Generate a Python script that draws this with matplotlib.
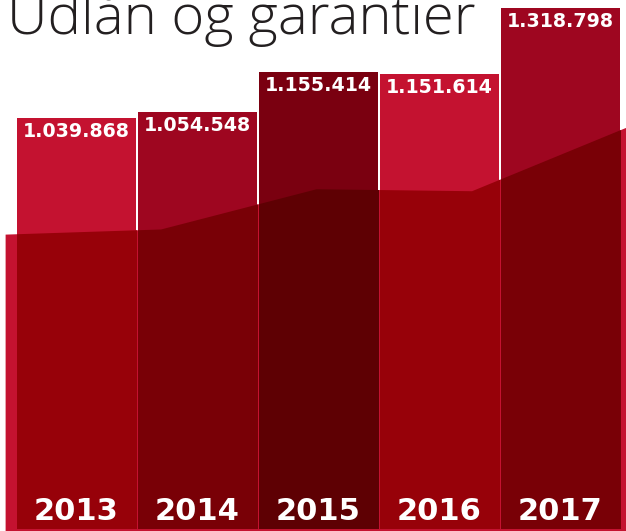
import matplotlib.pyplot as plt
import numpy as np
from matplotlib.colors import to_rgb

# data
years = ["2013", "2014", "2015", "2016", "2017"]
loans = [1039868, 1054548, 1155414, 1151614, 1318798]
loan_labels = ["1.039.868", "1.054.548", "1.155.414", "1.151.614", "1.318.798"]
# decorative backdrop area behind the bars
backdrop = [745000, 758000, 860000, 855000, 1017000]

bar_colors = ["#C41230", "#9E0620", "#7A0010", "#C41230", "#9E0620"]
overlay = "#C41230"


def multiply(c1, c2):
    """Multiply-blend two colours (the overlay darkens what lies under it)."""
    return tuple(a * b for a, b in zip(to_rgb(c1), to_rgb(c2)))


fig = plt.figure(figsize=(6.26, 5.31), dpi=100)
ax = fig.add_axes([0, 0, 1, 1])
ax.set_axis_off()

px_per_unit = 2535.0
ax.set_xlim(-76.5 / 121, 549.5 / 121)
ax.set_ylim(-3 * px_per_unit, 528 * px_per_unit)

x = np.arange(len(years))
bw = 119 / 121
bars = ax.bar(x, loans, width=bw, color=bar_colors, linewidth=0, zorder=2)

# backdrop area, spread across the full width
ax_x = np.linspace(-0.59, 4.55, len(backdrop))
ax.fill_between(ax_x, -10 * px_per_unit, backdrop, color=overlay, linewidth=0, zorder=1)

# the same area over each bar, blended with the bar colour
for bar, col in zip(bars, bar_colors):
    poly = ax.fill_between(ax_x, -10 * px_per_unit, backdrop,
                           color=multiply(col, overlay), linewidth=0, zorder=3)
    poly.set_clip_path(bar)

for xi, val, lab, yr in zip(x, loans, loan_labels, years):
    ax.annotate(lab, xy=(xi, val), xytext=(0, -4), textcoords="offset pixels",
                ha="center", va="top", color="white", fontsize=13.7,
                fontweight="bold", zorder=5)
    ax.annotate(yr, xy=(xi, 0), xytext=(0, 8), textcoords="offset pixels",
                ha="center", va="baseline", color="white", fontsize=22,
                fontweight="bold", zorder=5)

# title is cropped at the top edge, as in the reference
fig.text(7 / 626, (531 - 34) / 531, "Udlån og garantier", ha="left", va="baseline",
         fontsize=40.5, family="Open Sans", fontweight="light", color="#231F20")

fig.savefig("out.png", dpi=100)
